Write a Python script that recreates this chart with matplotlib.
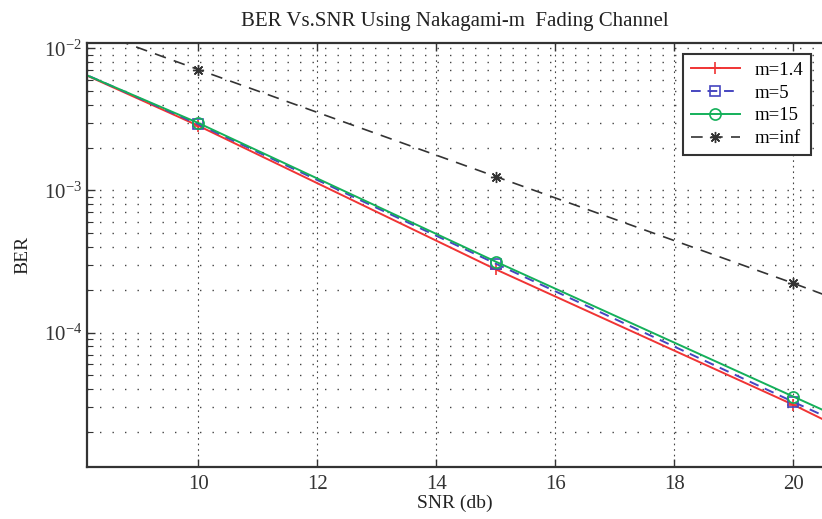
import math
import matplotlib
matplotlib.use('Agg')
import matplotlib.pyplot as plt
from matplotlib.ticker import LogLocator, FuncFormatter, NullFormatter

plt.rcParams['font.family'] = ['Liberation Serif', 'DejaVu Serif']
plt.rcParams['mathtext.fontset'] = 'custom'
plt.rcParams['mathtext.rm'] = 'Liberation Serif'
plt.rcParams['mathtext.it'] = 'Liberation Serif'

# SNR points (db) and BER values
snr = [5, 10, 15, 20, 25]
ber_m14 = [2.5e-2, 2.85e-3, 2.78e-4, 3.1e-5, 2.9e-6]
ber_m5 = [2.45e-2, 2.92e-3, 3.05e-4, 3.25e-5, 3.6e-6]
ber_m15 = [2.35e-2, 2.98e-3, 3.15e-4, 3.54e-5, 4.0e-6]
ber_inf = [4.1e-2, 7.08e-3, 1.25e-3, 2.22e-4, 3.7e-5]
labels = ['m=1.4', 'm=5', 'm=15', 'm=inf']

fig = plt.figure(figsize=(8.22, 5.19), dpi=100)
ax = fig.add_axes([87 / 822, 52 / 519, 735 / 822, 424 / 519])

ax.semilogy(snr, ber_m14, '-', color='#f03434', marker='+', ms=9, mew=1.2, lw=1.4, label=labels[0])
ax.semilogy(snr, ber_m5, '--', color='#4646c0', marker='s', ms=7, mfc='none', mew=1.2, lw=1.4,
            dashes=(5, 3.5), label=labels[1])
ax.semilogy(snr, ber_m15, '-', color='#14b05a', marker='o', ms=8, mfc='none', mew=1.2, lw=1.4, label=labels[2])
ax.semilogy(snr, ber_inf, '--', color='#333333', marker=(8, 2, 0), ms=8, mew=1.0, lw=1.2,
            dashes=(7, 5), label=labels[3])

ax.set_xlim(8.13, 20.48)
ax.set_ylim(10 ** -4.946, 10 ** -1.963)
ax.set_xticks([10, 12, 14, 16, 18, 20])
ax.yaxis.set_major_locator(LogLocator(base=10))
ax.yaxis.set_minor_locator(LogLocator(base=10, subs=range(2, 10)))
ax.yaxis.set_major_formatter(FuncFormatter(lambda v, p: r'$10^{%d}$' % round(math.log10(v))))
ax.yaxis.set_minor_formatter(NullFormatter())

ax.grid(True, which='major', axis='x', color='#444444', linestyle=(0, (1.5, 3.5)), lw=0.8)
ax.grid(True, which='both', axis='y', color='#444444', linestyle=(0, (1, 8)), lw=1.0)

ax.tick_params(which='both', direction='in', top=True, right=False, colors='#333333', labelsize=15)
ax.tick_params(which='major', length=6, width=1.0)
ax.tick_params(which='minor', length=4, width=0.8)
ax.tick_params(axis='x', pad=6)
for s in ['left', 'bottom', 'top']:
    ax.spines[s].set_linewidth(1.6)
    ax.spines[s].set_color('#333333')
ax.spines['right'].set_visible(False)

ax.set_title('BER Vs.SNR Using Nakagami-m  Fading Channel', fontsize=15, color='#222222', pad=12)
ax.set_xlabel('SNR (db)', fontsize=14, color='#222222', labelpad=0)
ax.set_ylabel('BER', fontsize=14, color='#222222', labelpad=9)

leg = ax.legend(loc='upper right', fontsize=13.5, fancybox=False, framealpha=1, edgecolor='#333333',
                handlelength=2.6, borderaxespad=0.6, labelspacing=0.3)
leg.get_frame().set_linewidth(1.5)

fig.savefig('out.png', dpi=100)
